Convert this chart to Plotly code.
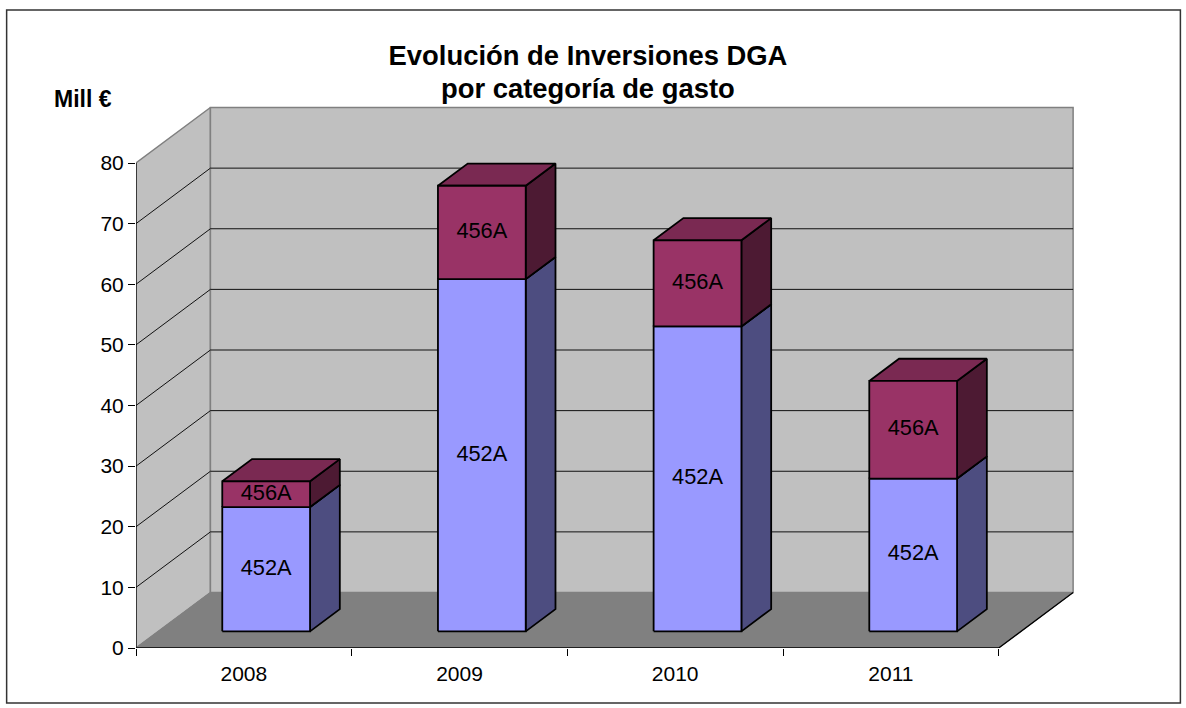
import plotly.graph_objects as go

# --- data ---
years = ["2008", "2009", "2010", "2011"]
serie_452A = [20.5, 58.1, 50.3, 25.2]
serie_456A = [4.25, 15.4, 14.2, 16.1]
y_ticks = [0, 10, 20, 30, 40, 50, 60, 70, 80]
title_lines = ["Evolución de Inversiones DGA", "por categoría de gasto"]
y_unit = "Mill €"
names = ["452A", "456A"]

# --- style / geometry of the pseudo-3D box ---
W, H = 1186, 708
L, R, T, B = 135.5, 1084.5, 98, 648    # plot area, px (slack so wall edges are not clipped)
X_PX = 215.9                            # px per category
Y_PX = 6.0625                           # px per value unit
DX = 74.5 / X_PX                        # full box depth in x units
DY = 55.5 / Y_PX                        # full box depth in y units
FRONT, BACK = 0.30, 0.70                # bar depth as a share of box depth
BAR_W = 0.407
XMAX = len(years)
YMAX = y_ticks[-1]
COL = {"452A": ("#9999FF", "#4D4D80", "#7A7ACC"),
       "456A": ("#993366", "#4D1A33", "#7A2952")}
FONT = "Liberation Sans"

fig = go.Figure()


def poly(xs, ys, fill=None, line="black", width=1.8):
    fig.add_trace(go.Scatter(
        x=xs, y=ys, mode="lines", fill="toself" if fill else "none",
        fillcolor=fill, line=dict(color=line, width=width),
        hoverinfo="skip", showlegend=False, cliponaxis=False))


# walls and floor
poly([0, DX, DX, 0, 0], [0, DY, DY + YMAX, YMAX, 0], "#C0C0C0", "#808080", 1.5)
poly([DX, DX + XMAX, DX + XMAX, DX, DX],
     [DY, DY, DY + YMAX, DY + YMAX, DY], "#C0C0C0", "#808080", 1.5)
poly([0, XMAX, XMAX + DX, DX, 0], [0, 0, DY, DY, 0], "#808080", "#808080", 1)

# gridlines
for v in y_ticks[1:-1]:
    poly([0, DX, DX + XMAX], [v, v + DY, v + DY], None, "#111111", 1)

# axis lines
poly([0, 0], [0, YMAX], None, "black", 1.2)
poly([0, XMAX, XMAX + DX], [0, 0, DY], None, "black", 1.3)

# bars
label_x, label_y, label_text = [], [], []
for i in range(len(years)):
    x0 = i + 0.5 - BAR_W / 2 + FRONT * DX
    x1 = x0 + BAR_W
    ddx = (BACK - FRONT) * DX
    ddy = (BACK - FRONT) * DY
    base_off = FRONT * DY
    lo = 0.0
    for name, vals in zip(names, (serie_452A, serie_456A)):
        hi = lo + vals[i]
        front, side, top = COL[name]
        y0, y1 = base_off + lo, base_off + hi
        poly([x1, x1 + ddx, x1 + ddx, x1, x1],
             [y0, y0 + ddy, y1 + ddy, y1, y0], side)
        poly([x0, x1, x1 + ddx, x0 + ddx, x0],
             [y1, y1, y1 + ddy, y1 + ddy, y1], top)
        poly([x0, x1, x1, x0, x0], [y0, y0, y1, y1, y0], front)
        label_x.append((x0 + x1) / 2)
        label_y.append((y0 + y1) / 2)
        label_text.append(name)
        lo = hi

fig.add_trace(go.Scatter(
    x=label_x, y=label_y, text=label_text, mode="text",
    textposition="middle center",
    textfont=dict(family=FONT, size=21.8, color="black"),
    hoverinfo="skip", showlegend=False, cliponaxis=False))

pw, ph = R - L, B - T

fig.update_layout(
    width=W, height=H, autosize=False,
    margin=dict(l=L, r=W - R, t=T, b=H - B, pad=0),
    paper_bgcolor="white", plot_bgcolor="white",
    font=dict(family=FONT, color="black"),
    showlegend=False,
    title=dict(
        text="<b>" + title_lines[0] + "</b>",
        x=588 / W, xref="container", xanchor="center",
        y=1 - 55 / H, yref="container", yanchor="middle",
        font=dict(family=FONT, size=27.4, color="black")),
    xaxis=dict(
        range=[0, (R - L) / X_PX], showgrid=False, zeroline=False,
        showline=False, tickmode="array",
        tickvals=[i + 0.5 for i in range(len(years))], ticktext=years,
        ticks="", tickfont=dict(family=FONT, size=21, color="black"),
        minor=dict(tickmode="array", tickvals=list(range(len(years) + 1)),
                   ticks="outside", ticklen=7, tickwidth=1, tickcolor="black",
                   showgrid=False),
        ticklabelstandoff=11),
    yaxis=dict(
        range=[0, (B - T) / Y_PX], showgrid=False, zeroline=False,
        showline=False, tickmode="array", tickvals=y_ticks,
        ticktext=[str(v) for v in y_ticks],
        ticks="outside", ticklen=7, tickwidth=1, tickcolor="black",
        tickfont=dict(family=FONT, size=21, color="black")),
    annotations=[
        dict(text="<b>" + y_unit + "</b>", x=(82 - L) / pw, y=(B - 99) / ph,
             xref="paper", yref="paper", showarrow=False, xanchor="center",
             yanchor="middle", font=dict(family=FONT, size=23, color="black")),
        dict(text="<b>" + title_lines[1] + "</b>", x=(588 - L) / pw, y=(B - 88) / ph,
             xref="paper", yref="paper", showarrow=False, xanchor="center",
             yanchor="middle", font=dict(family=FONT, size=27.4, color="black")),
    ],
)

# chart-area border, paper coordinates of the plot area
fig.add_shape(type="rect", xref="paper", yref="paper",
              x0=(6 - L) / pw, x1=(1181 - L) / pw,
              y0=(B - 703) / ph, y1=(B - 10) / ph,
              line=dict(color="#333333", width=1.5), layer="below")

fig.write_html("out.html", post_script="document.body.style.margin='0';",
               config={"displayModeBar": False})
